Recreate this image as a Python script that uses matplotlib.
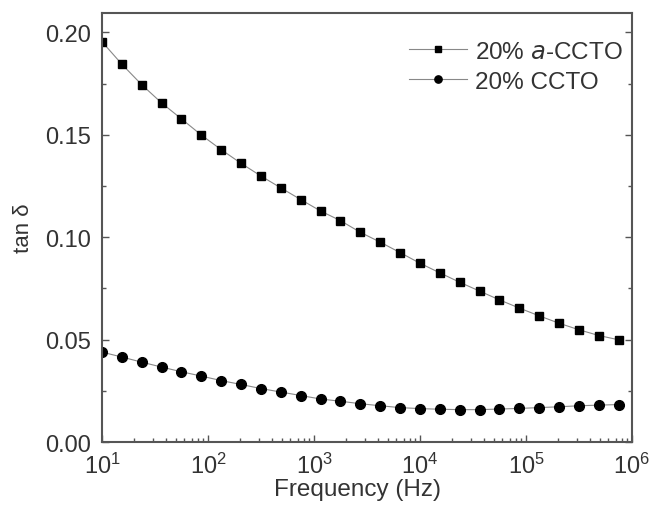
import math
import matplotlib
matplotlib.use("Agg")
import matplotlib.pyplot as plt
from matplotlib.ticker import LogLocator, MultipleLocator, FuncFormatter

plt.rcParams['font.family'] = ['Liberation Sans', 'DejaVu Sans']
plt.rcParams['mathtext.default'] = 'regular'

freq = [10, 15.4, 23.7, 36.5, 56.2, 86.6, 133, 205, 316, 487, 750,
        1155, 1778, 2738, 4217, 6494, 10000, 15400, 23714, 36517, 56234,
        86596, 133352, 205353, 316228, 486968, 749894]
tan_a_ccto = [0.1955, 0.1845, 0.1745, 0.1656, 0.1578, 0.1499, 0.1428, 0.1361,
              0.1299, 0.1241, 0.1184, 0.1128, 0.1081, 0.1024, 0.0976, 0.0925,
              0.0873, 0.0826, 0.0780, 0.0737, 0.0694, 0.0654, 0.0616, 0.0580,
              0.0548, 0.0520, 0.0499]
tan_ccto = [0.0439, 0.0415, 0.0390, 0.0366, 0.0343, 0.0322, 0.0300, 0.0281,
            0.0261, 0.0244, 0.0227, 0.0210, 0.0199, 0.0187, 0.0177, 0.0168,
            0.0163, 0.0160, 0.0158, 0.0158, 0.0161, 0.0164, 0.0168, 0.0172,
            0.0177, 0.0180, 0.0183]

fig = plt.figure(figsize=(6.52, 5.06), dpi=100)
ax = fig.add_axes([0.1564, 0.1245, 0.8129, 0.8478])

ax.plot(freq, tan_a_ccto, color='#888888', lw=0.8, marker='s', ms=6.2,
        mfc='k', mec='k', label='20% $\\it{a}$-CCTO')
ax.plot(freq, tan_ccto, color='#888888', lw=0.8, marker='o', ms=7,
        mfc='k', mec='k', label='20% CCTO')

ax.set_xscale('log')
ax.set_xlim(10, 1e6)
ax.set_ylim(0, 0.2095)
ax.yaxis.set_major_locator(MultipleLocator(0.05))
ax.yaxis.set_minor_locator(MultipleLocator(0.025))
ax.yaxis.set_major_formatter(FuncFormatter(lambda v, p: f'{v:.2f}'))
ax.xaxis.set_major_locator(LogLocator(base=10))
ax.xaxis.set_minor_locator(LogLocator(base=10, subs=range(2, 10)))
ax.xaxis.set_major_formatter(FuncFormatter(lambda v, p: '$10^{%d}$' % round(math.log10(v))))

for s in ax.spines.values():
    s.set_color('#555555')
    s.set_linewidth(1.5)
ax.tick_params(which='both', direction='in', colors='#555555', labelcolor='#333333',
               top=False, right=True, labelsize=17)
ax.tick_params(which='major', length=5, width=1)
ax.tick_params(which='minor', length=3, width=1)
ax.tick_params(axis='y', pad=8)
ax.tick_params(axis='x', pad=8)

ax.set_xlabel('Frequency (Hz)', fontsize=17.5, color='#333333')
ax.xaxis.set_label_coords(0.483, -0.083)
ax.set_ylabel('tan δ', fontsize=16, color='#333333', labelpad=8)

ax.legend(loc='upper right', bbox_to_anchor=(1.0, 0.958), frameon=False,
          fontsize=17.5, handlelength=2.4, handletextpad=0.3,
          labelspacing=0.33, borderaxespad=0, markerscale=0.75,
          labelcolor='#333333')

fig.savefig('out.png', dpi=100)
